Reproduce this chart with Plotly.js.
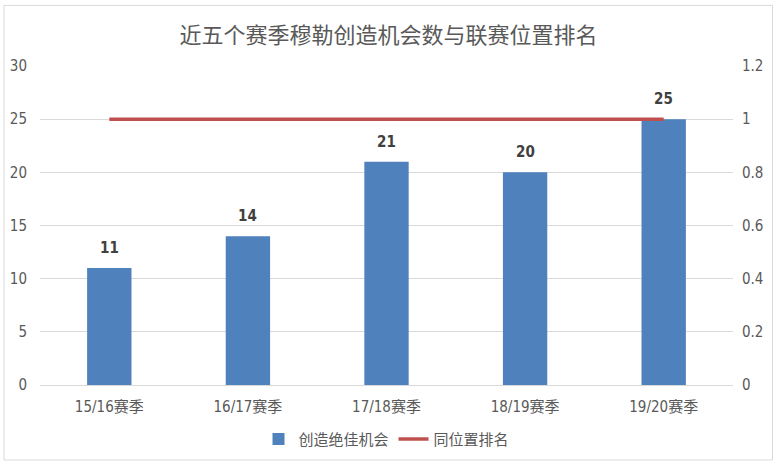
<!DOCTYPE html>
<html>
<head>
<meta charset="utf-8">
<script src="https://cdn.plot.ly/plotly-3.0.1.min.js"></script>
<style>
body{margin:0;background:#fff;}
#chart{width:777px;height:468px;}
</style>
</head>
<body>
<div id="chart"></div>
<script>
var seasons = ['15/16赛季','16/17赛季','17/18赛季','18/19赛季','19/20赛季'];
var chances = [11,14,21,20,25];
var rank = [1,1,1,1,1];

var font = '"Liberation Sans Narrow","DejaVu Sans Condensed","Liberation Sans","Noto Sans CJK SC",sans-serif';
var grey = '#595959';

var bars = {
	type:'bar',
	x:seasons,
	y:chances,
	name:'创造绝佳机会',
	width:0.32,
	marker:{color:'#4f81bd'},
	hoverinfo:'x+y'
};

var line = {
	type:'scatter',
	mode:'lines',
	x:seasons,
	y:rank,
	yaxis:'y2',
	name:'同位置排名',
	line:{color:'#c0504d',width:3.5}
};

// value labels above bars
var labels = seasons.map(function(s,i){
	return {x:s,y:chances[i],text:'<b>'+chances[i]+'</b>',showarrow:false,
		yanchor:'bottom',yshift:9,font:{family:font,size:15,color:'#404040'}};
});

var layout = {
	width:777,
	height:468,
	margin:{l:40,r:44,t:66,b:81},
	paper_bgcolor:'#fff',
	plot_bgcolor:'#fff',
	font:{family:font,size:14,color:grey},
	title:{text:'近五个赛季穆勒创造机会数与联赛位置排名',x:0.5,xanchor:'center',y:0.94,
		font:{family:'"Noto Sans CJK SC",sans-serif',size:22,color:grey}},
	showlegend:true,
	legend:{orientation:'h',x:0.5,xanchor:'center',y:-0.17,yanchor:'middle',
		font:{family:'"Noto Sans CJK SC",sans-serif',size:15,color:grey},
		itemwidth:30,tracegroupgap:0},
	xaxis:{showgrid:false,showline:true,linecolor:'#d9d9d9',ticks:'',
		tickfont:{family:font,size:15,color:grey},ticklabelstandoff:8,automargin:false},
	yaxis:{range:[0,30],dtick:5,gridcolor:'#d9d9d9',zeroline:false,ticks:'',
		tickfont:{family:font,size:15,color:grey},ticklabelstandoff:12,automargin:false},
	yaxis2:{range:[0,1.2],dtick:0.2,overlaying:'y',side:'right',showgrid:false,zeroline:false,
		ticks:'',tickfont:{family:font,size:15,color:grey},ticklabelstandoff:8,automargin:false},
	annotations:labels,
	shapes:[{type:'rect',xref:'paper',yref:'paper',x0:-0.052,x1:1.057,y0:-0.235,y1:1.19,
		line:{color:'#d9d9d9',width:1}}]
};

Plotly.newPlot('chart',[bars,line],layout,{displayModeBar:false});
</script>
</body>
</html>
